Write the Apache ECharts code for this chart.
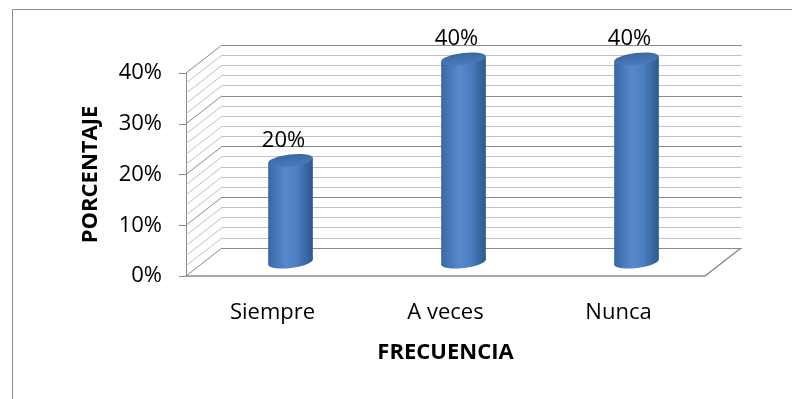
<!DOCTYPE html>
<html>
<head>
<meta charset="utf-8">
<script src="https://cdn.jsdelivr.net/npm/echarts@6/dist/echarts.min.js"></script>
<style>
  html, body { margin: 0; padding: 0; background: #ffffff; }
  #chart { width: 792px; height: 399px; }
</style>
</head>
<body>
<div id="chart"></div>
<script>
// Frequency categories and their share (percent)
const categories = ['Siempre', 'A veces', 'Nunca'];
const percentages = [20, 40, 40];

// Value axis ticks
const yMin = 0;
const yMax = 40;
const yInterval = 10;
const yMinorSplits = 5;

const xTitle = 'FRECUENCIA';
const yTitle = 'PORCENTAJE';

// Pseudo-3D depth of the plot box (pixels), cylinder size
const DEPTH_X = 36;
const DEPTH_Y = -28;
const CYL_RX = 22.5;
const CYL_RY = 6;
const CYL_TILT = 0.12;

const FONT = '"Open Sans", "Liberation Sans", sans-serif';
const MAJOR_LINE = '#8a8a8a';
const MINOR_LINE = '#c2c2c2';

const chart = echarts.init(document.getElementById('chart'), null, { renderer: 'canvas' });

const bodyGradient = () => new echarts.graphic.LinearGradient(0, 0, 1, 0, [
  { offset: 0, color: '#3a67a4' },
  { offset: 0.4, color: '#5889cc' },
  { offset: 0.65, color: '#4c7ec0' },
  { offset: 1, color: '#2e578e' }
]);

// Side wall hatching and right floor edge, following the value axis steps
function renderFrame(params, api) {
  const cs = params.coordSys;
  const children = [];
  const steps = (yMax - yMin) / yInterval * yMinorSplits;
  for (let i = 0; i <= steps; i++) {
    const v = yMin + i * yInterval / yMinorSplits;
    const y = api.coord([0, v])[1];
    const major = i % yMinorSplits === 0;
    children.push({
      type: 'line',
      shape: { x1: cs.x, y1: y, x2: cs.x + DEPTH_X, y2: y + DEPTH_Y },
      style: { stroke: major ? MAJOR_LINE : MINOR_LINE, lineWidth: 1 }
    });
  }
  const bx = cs.x + cs.width;
  const by = cs.y + cs.height;
  children.push({
    type: 'line',
    shape: { x1: bx, y1: by, x2: bx + DEPTH_X, y2: by + DEPTH_Y },
    style: { stroke: MAJOR_LINE, lineWidth: 1.5 }
  });
  return { type: 'group', children };
}

// Cylinders placed at mid depth, with their value labels
function renderCylinder(params, api) {
  const idx = api.value(0);
  const val = api.value(1);
  const top = api.coord([idx, val]);
  const base = api.coord([idx, 0]);
  const cx = top[0] + DEPTH_X / 2;
  const topY = top[1] + DEPTH_Y / 2;
  const baseY = base[1] + DEPTH_Y / 2;
  const ex = CYL_RX * Math.cos(CYL_TILT);
  const ey = CYL_RX * Math.sin(CYL_TILT);
  return {
    type: 'group',
    children: [
      {
        type: 'ellipse',
        shape: { cx: cx, cy: baseY, rx: CYL_RX, ry: CYL_RY },
        rotation: CYL_TILT,
        originX: cx,
        originY: baseY,
        style: { fill: bodyGradient() }
      },
      {
        type: 'polygon',
        shape: {
          points: [
            [cx - ex, topY + ey],
            [cx + ex, topY - ey],
            [cx + ex, baseY - ey],
            [cx - ex, baseY + ey]
          ]
        },
        style: { fill: bodyGradient() }
      },
      {
        type: 'ellipse',
        shape: { cx: cx, cy: topY, rx: CYL_RX, ry: CYL_RY },
        rotation: CYL_TILT,
        originX: cx,
        originY: topY,
        style: {
          fill: new echarts.graphic.LinearGradient(0, 0, 0, 1, [
            { offset: 0, color: '#3a67a3' },
            { offset: 1, color: '#4a7bbb' }
          ])
        }
      },
      {
        type: 'text',
        x: cx - 7,
        y: topY - 20,
        style: {
          text: val + '%',
          font: '22px ' + FONT,
          fill: '#000000',
          align: 'center',
          verticalAlign: 'middle'
        }
      }
    ]
  };
}

const option = {
  backgroundColor: '#ffffff',
  animation: false,
  graphic: [
    {
      type: 'rect',
      shape: { x: 12.5, y: 9.5, width: 800, height: 420 },
      style: { fill: 'none', stroke: '#8c8c8c', lineWidth: 1 },
      silent: true,
      z: -10
    }
  ],
  grid: [
    { left: 186, top: 73, width: 519, height: 203, outerBoundsMode: 'none' },
    { left: 222, top: 45, width: 520, height: 203, outerBoundsMode: 'none' }
  ],
  xAxis: [
    {
      gridIndex: 0,
      type: 'category',
      data: categories,
      axisLine: { show: true, lineStyle: { color: MAJOR_LINE, width: 1.5 } },
      axisTick: { show: false },
      axisLabel: { fontSize: 22, fontFamily: FONT, color: '#000000', margin: 26 },
      splitLine: { show: false },
      name: xTitle,
      nameLocation: 'middle',
      nameGap: 66,
      nameTextStyle: { fontSize: 22, fontWeight: 'bold', fontFamily: FONT, color: '#000000' }
    },
    {
      gridIndex: 1,
      type: 'category',
      data: categories,
      show: false
    }
  ],
  yAxis: [
    {
      gridIndex: 0,
      type: 'value',
      min: yMin,
      max: yMax,
      interval: yInterval,
      axisLine: { show: true, lineStyle: { color: MAJOR_LINE, width: 1 } },
      axisTick: { show: true, length: 7, lineStyle: { color: MAJOR_LINE } },
      axisLabel: {
        formatter: '{value}%',
        fontSize: 22,
        fontFamily: FONT,
        color: '#000000',
        margin: 24
      },
      splitLine: { show: false },
      name: yTitle,
      nameLocation: 'middle',
      nameGap: 84,
      nameRotate: 90,
      nameTextStyle: { fontSize: 22, fontWeight: 'bold', fontFamily: FONT, color: '#000000' }
    },
    {
      gridIndex: 1,
      type: 'value',
      min: yMin,
      max: yMax,
      interval: yInterval,
      axisLine: { show: false },
      axisTick: { show: false },
      axisLabel: { show: false },
      splitLine: { show: true, lineStyle: { color: MAJOR_LINE, width: 1 } },
      minorTick: { show: false, splitNumber: yMinorSplits },
      minorSplitLine: { show: true, lineStyle: { color: MINOR_LINE, width: 1 } }
    }
  ],
  series: [
    {
      type: 'custom',
      xAxisIndex: 1,
      yAxisIndex: 1,
      data: [],
      renderItem: () => null,
      silent: true
    },
    {
      type: 'custom',
      xAxisIndex: 0,
      yAxisIndex: 0,
      data: [[0, 0]],
      renderItem: renderFrame,
      silent: true,
      z: 1
    },
    {
      type: 'custom',
      xAxisIndex: 0,
      yAxisIndex: 0,
      data: percentages.map((v, i) => [i, v]),
      renderItem: renderCylinder,
      z: 5
    }
  ]
};

chart.setOption(option);
</script>
</body>
</html>
